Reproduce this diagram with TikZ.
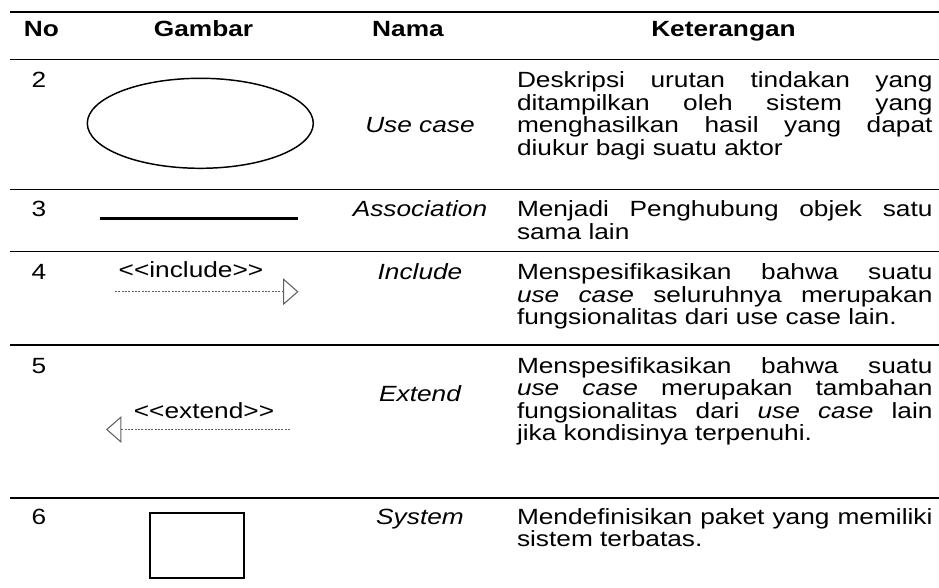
\documentclass[tikz,border=0pt]{standalone}
\usepackage{fontspec}
\setmainfont{Liberation Sans}
\usetikzlibrary{arrows.meta,shapes.geometric}
\definecolor{linegray}{RGB}{95,95,95}
% justified description paragraph whose baseline is that of its first line
\newcommand\descpar[1]{\vtop{\hsize=261pt\parindent=0pt\baselineskip=16.9pt\lineskiplimit=-100pt\lineskip=0pt
  \hyphenpenalty=10000\exhyphenpenalty=10000\tolerance=10000\hbadness=10000 #1\par}}
% angle brackets kept apart so they are not joined into guillemets
\newcommand\lt{\mbox{<}}
\newcommand\gt{\mbox{>}}
\tikzset{
  txt/.style={font=\fontsize{16.5}{16.9}\selectfont, xscale=1.194, inner sep=0pt, outer sep=0pt},
  headtxt/.style={txt, font=\fontsize{16.5}{16.9}\selectfont\bfseries, anchor=base},
  numtxt/.style={txt, anchor=base west},
  nametxt/.style={txt, font=\fontsize{16.5}{16.9}\selectfont\itshape, anchor=base},
  desctxt/.style={txt, anchor=base west},
  tablerule/.style={line width=1.2pt, black},
  deparrow/.style={linegray, line width=0.8pt, dash pattern=on 1.5pt off 1pt,
    -{Triangle[open, length=11.5pt, width=20pt, line width=0.8pt]}},
}
\begin{document}
\begin{tikzpicture}[x=0.75pt,y=-0.75pt]
\useasboundingbox (0,0) rectangle (939,588);

% horizontal rules
\draw[tablerule] (10,12) -- (939,12);
\draw[tablerule] (10,59.5) -- (939,59.5);
\draw[tablerule] (10,189.5) -- (939,189.5);
\draw[tablerule] (10,251.5) -- (939,251.5);
\draw[tablerule] (10,345) -- (939,345);
\draw[tablerule] (10,498) -- (939,498);

% header
\node[headtxt] (hno) at (41.5,36.5) {No};
\node[headtxt] (hgb) at (203.5,36.5) {Gambar};
\node[headtxt] (hnm) at (408,36.5) {Nama};
\node[headtxt] (hkt) at (723.5,36.5) {Keterangan};

% row 2: use case
\node[numtxt] (n2) at (31.5,87.5) {2};
\node[draw, line width=1.1pt, ellipse, minimum width=169.5pt, minimum height=67.5pt, inner sep=0pt] (uc) at (200.3,123.3) {};
\node[nametxt] (nm2) at (420,133) {Use case};
\node[desctxt] (d2) at (517,87.5) {\descpar{Deskripsi urutan tindakan yang\break
ditampilkan oleh sistem yang\break
menghasilkan hasil yang dapat\break
diukur bagi suatu aktor}};

% row 3: association
\node[numtxt] (n3) at (31.5,216.5) {3};
\coordinate (asA) at (100,218.3);
\coordinate (asB) at (298,218.3);
\draw[line width=2.25pt] (asA) -- (asB);
\node[nametxt] (nm3) at (420,216.5) {Association};
\node[desctxt] (d3) at (517,216.5) {\descpar{Menjadi Penghubung objek satu\break
sama lain}};

% row 4: include
\node[numtxt] (n4) at (31.5,279.5) {4};
\node[txt, anchor=base] (inc) at (191,277) {\lt\lt include\gt\gt};
\coordinate (incA) at (115,291.7);
\coordinate (incB) at (298.5,291.7);
\draw[deparrow] (incA) -- (incB);
\node[nametxt] (nm4) at (420,279.5) {Include};
\node[desctxt] (d4) at (517,279.5) {\descpar{Menspesifikasikan bahwa suatu\break
{\itshape use case} seluruhnya merupakan\break
fungsionalitas dari use case lain.}};

% row 5: extend
\node[numtxt] (n5) at (31.5,373) {5};
\node[txt, anchor=base] (ext) at (204,418) {\lt\lt extend\gt\gt};
\coordinate (extA) at (290,429.5);
\coordinate (extB) at (106,429.5);
\draw[deparrow] (extA) -- (extB);
\node[nametxt] (nm5) at (420,401) {Extend};
\node[desctxt] (d5) at (517,373) {\descpar{Menspesifikasikan bahwa suatu\break
{\itshape use case} merupakan tambahan\break
fungsionalitas dari {\itshape use case} lain\break
jika kondisinya terpenuhi.}};

% row 6: system
\node[numtxt] (n6) at (31.5,524) {6};
\node[draw, line width=1.5pt, minimum width=70.5pt, minimum height=48.75pt, inner sep=0pt] (sys) at (197,545.5) {};
\node[nametxt] (nm6) at (420,524) {System};
\node[desctxt] (d6) at (517,524) {\descpar{Mendefinisikan paket yang memiliki\break
sistem terbatas.}};
\end{tikzpicture}
\end{document}
